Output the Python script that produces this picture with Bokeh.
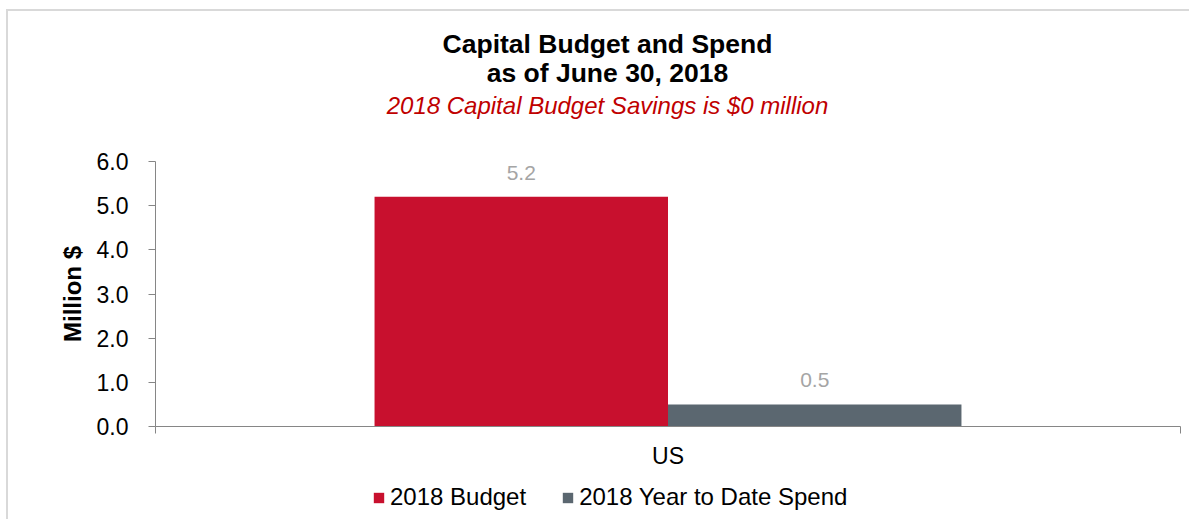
from bokeh.plotting import figure
from bokeh.models import (Range1d, FixedTicker, Label, Legend, LegendItem,
                          ColumnDataSource, NumeralTickFormatter)
from bokeh.core.properties import value
from bokeh.embed import file_html
from bokeh.resources import INLINE

# ---- data ----
categories = ["US"]
series_names = ["2018 Budget", "2018 Year to Date Spend"]
budget = [5.2]
ytd_spend = [0.5]
series_colors = ["#C8102E", "#5B6770"]
y_ticks = [0.0, 1.0, 2.0, 3.0, 4.0, 5.0, 6.0]
title_lines = ["Capital Budget and Spend", "as of June 30, 2018"]
subtitle = "2018 Capital Budget Savings is $0 million"
y_label = "Million $"

FONT = "Liberation Sans"
W, H = 1183, 510
# plot-area box inside the canvas, in pixels
PL, PR, PT, PB = 147, 1172, 150, 415
n = len(categories)
y0, y1 = y_ticks[0], y_ticks[-1]
xs_per_px = n / (PR - PL)
ys_per_px = (y1 - y0) / (PB - PT)


def px_x(px):
    return (px - PL) * xs_per_px


def px_y(py):
    return y0 + (PB - py) * ys_per_px


p = figure(width=W, height=H, output_backend="svg", toolbar_location=None,
           x_range=Range1d(px_x(0), px_x(W)), y_range=Range1d(px_y(H), px_y(0)),
           min_border=0)
p.styles = {"border-left": "2px solid #d9d9d9", "border-top": "2px solid #d9d9d9",
            "margin-left": "6px", "margin-top": "9px"}
p.outline_line_color = None
p.xgrid.visible = False
p.ygrid.visible = False
p.background_fill_color = "white"
p.border_fill_color = "white"

# bars
bar_w = 0.2863
series = [budget, ytd_spend]
renderers = []
for k, (vals, col) in enumerate(zip(series, series_colors)):
    xs = [i + 0.5 + (k - 0.5) * bar_w for i in range(n)]
    src = ColumnDataSource(dict(x=xs, top=vals, lbl=[f"{v:.1f}" for v in vals]))
    r = p.vbar(x="x", top="top", bottom=0, width=bar_w, source=src,
               fill_color=col, line_color=None)
    renderers.append(r)
    p.text(x="x", y="top", text="lbl", source=src, text_align="center",
           text_baseline="bottom", y_offset=-17, text_color="#a5a5a5",
           text_font=value(FONT), text_font_size="21px")

# axes (pinned to the plot-area box)
xa = p.xaxis[0]
xa.fixed_location = y0
xa.bounds = (0, n)
xa.ticker = FixedTicker(ticks=[i + 0.5 for i in range(n)], minor_ticks=list(range(n + 1)))
xa.major_label_overrides = {i + 0.5: c for i, c in enumerate(categories)}
xa.major_tick_out = 0
xa.major_tick_in = 0
xa.minor_tick_out = 7
xa.minor_tick_in = 0
xa.minor_tick_line_color = "#868686"
xa.axis_line_color = "#868686"
xa.major_label_standoff = 9
xa.major_label_text_font = FONT
xa.major_label_text_font_size = "23px"
xa.major_label_text_color = "black"

ya = p.yaxis[0]
ya.fixed_location = 0
ya.bounds = (y0, y1)
ya.ticker = FixedTicker(ticks=y_ticks, minor_ticks=[])
ya.formatter = NumeralTickFormatter(format="0.0")
ya.major_tick_out = 7
ya.major_tick_in = 0
ya.major_tick_line_color = "#868686"
ya.axis_line_color = "#868686"
ya.major_label_standoff = 20
ya.major_label_text_font = FONT
ya.major_label_text_font_size = "23px"
ya.major_label_text_color = "black"
ya.axis_label = y_label
ya.axis_label_text_font = FONT
ya.axis_label_text_font_size = "24px"
ya.axis_label_text_font_style = "bold"
ya.axis_label_text_color = "black"
ya.axis_label_standoff = 8

# titles
tcx = px_x(599)
for txt, by in zip(title_lines, [32, 61]):
    p.add_layout(Label(x=tcx, y=px_y(by), text=txt, text_align="center",
                       text_baseline="alphabetic", text_font=FONT,
                       text_font_size="26.5px", text_font_style="bold",
                       text_color="black"))
p.add_layout(Label(x=tcx, y=px_y(94), text=subtitle, text_align="center",
                   text_baseline="alphabetic", text_font=FONT,
                   text_font_size="24px", text_font_style="italic",
                   text_color="#C00000"))

# legend
legend = Legend(items=[LegendItem(label=nm, renderers=[r]) for nm, r in zip(series_names, renderers)],
                orientation="horizontal", location=(364, 10),
                glyph_width=13, glyph_height=13, label_standoff=5, spacing=35,
                label_text_font=FONT, label_text_font_size="24px",
                label_text_color="black",
                label_height=24, padding=0, margin=0,
                border_line_color=None, background_fill_alpha=0)
p.add_layout(legend, "center")

open("out.html", "w").write(file_html(p, INLINE))
